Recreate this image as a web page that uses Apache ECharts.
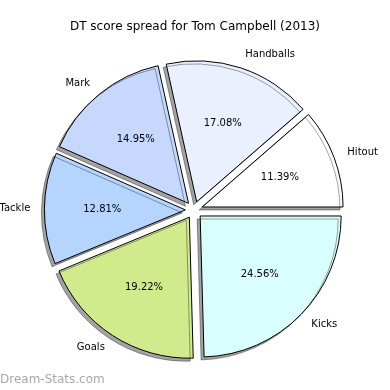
<!DOCTYPE html>
<html><head><meta charset="utf-8">
<script src="https://cdn.jsdelivr.net/npm/echarts@6/dist/echarts.min.js"></script>
<style>html,body{margin:0;padding:0;background:#fff}#c{width:390px;height:390px}</style>
</head><body><div id="c"></div>
<script>
const categories = ['Hitout', 'Handballs', 'Mark', 'Tackle', 'Goals', 'Kicks'];
const percents = [11.39, 17.08, 14.95, 12.81, 19.22, 24.56];
const colors = ['#ffffff', '#eaf0fe', '#c6d8fe', '#b5d5fe', '#d1ea8c', '#d9fefe'];

const R = 141;
const center = [194, 210];
const off = 8.6;

const chart = echarts.init(document.getElementById('c'), null, {renderer: 'canvas'});
const baseData = categories.map((n, i) => ({
  name: n, value: percents[i], selected: true,
  itemStyle: {color: colors[i]}
}));
const pctData = categories.map((n, i) => ({
  name: n, value: percents[i], selected: true
}));
chart.setOption({
  animation: false,
  title: {
    text: 'DT score spread for Tom Campbell (2013)',
    left: 'center', top: 16,
    textStyle: {fontFamily: 'DejaVu Sans', fontSize: 12, fontWeight: 'normal', color: '#000'}
  },
  graphic: [{
    type: 'text', left: 0, top: 374,
    style: {text: 'Dream-Stats.com', fontFamily: 'DejaVu Sans', fontSize: 12, fill: '#a8a8a8'}
  }],
  series: [{
    type: 'pie',
    center: center,
    radius: R,
    startAngle: 0,
    clockwise: false,
    selectedMode: 'multiple',
    selectedOffset: off,
    avoidLabelOverlap: false,
    silent: true,
    data: baseData,
    itemStyle: {
      borderColor: '#000', borderWidth: 1,
      shadowColor: 'rgba(0,0,0,0.36)', shadowBlur: 0, shadowOffsetX: -3, shadowOffsetY: 3
    },
    select: {itemStyle: {borderColor: '#000', borderWidth: 1}},
    label: {
      show: true, position: 'outside', formatter: '{b}',
      distanceToLabelLine: 0,
      fontFamily: 'DejaVu Sans', fontSize: 10, color: '#000'
    },
    labelLine: {show: false, length: R * 0.1, length2: 0}
  }, {
    type: 'pie',
    center: center,
    radius: [R * 0.2 - 9, R],
    startAngle: 0,
    clockwise: false,
    selectedMode: 'multiple',
    selectedOffset: off,
    avoidLabelOverlap: false,
    silent: true,
    data: pctData,
    itemStyle: {color: 'rgba(0,0,0,0)', borderWidth: 0},
    select: {itemStyle: {color: 'rgba(0,0,0,0)', borderWidth: 0}},
    label: {
      show: true, position: 'inside',
      formatter: p => p.value.toFixed(2) + '%',
      fontFamily: 'DejaVu Sans', fontSize: 10, color: '#000'
    },
    labelLine: {show: false}
  }]
});
</script></body></html>
